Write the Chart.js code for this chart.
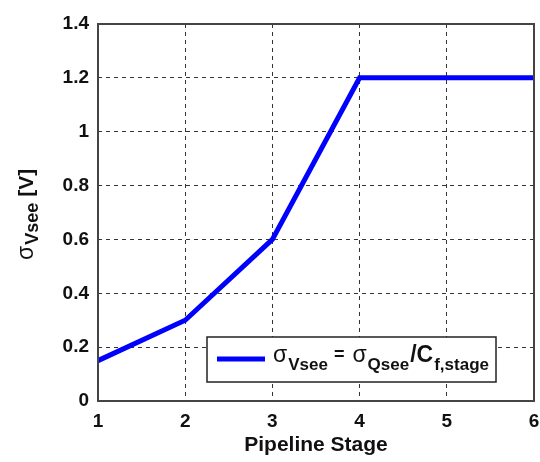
<!DOCTYPE html>
<html>
<head>
<meta charset="utf-8">
<script src="https://cdn.jsdelivr.net/npm/chart.js@4"></script>
<style>
  html, body { margin: 0; padding: 0; background: #fff; }
  #wrap { width: 540px; height: 462px; }
</style>
</head>
<body>
<div id="wrap"><canvas id="myChart" width="540" height="462"></canvas></div>
<script>
// chart values
const stages = [1, 2, 3, 4, 5, 6];
const sigmaVsee = [0.15, 0.3, 0.6, 1.2, 1.2, 1.2];
const yTicks = [0, 0.2, 0.4, 0.6, 0.8, 1, 1.2, 1.4];

const FONT = '"Liberation Sans", Arial, sans-serif';

// draws text pieces one after another, some as subscripts
function drawRich(ctx, parts, x, y) {
  parts.forEach(p => {
    ctx.font = p.font;
    ctx.fillText(p.text, x, y + (p.dy || 0));
    x += ctx.measureText(p.text).width + (p.gap || 0);
  });
  return x;
}

const framePlugin = {
  id: 'frame',
  afterDraw(chart) {
    const ctx = chart.ctx;
    const a = chart.chartArea;
    ctx.save();

    // box round the plot
    ctx.strokeStyle = '#444';
    ctx.lineWidth = 2;
    ctx.strokeRect(a.left, a.top, a.right - a.left, a.bottom - a.top);

    // y axis title with subscript
    ctx.fillStyle = '#111';
    ctx.textBaseline = 'alphabetic';
    ctx.translate(33, 260);
    ctx.rotate(-Math.PI / 2);
    drawRich(ctx, [
      { text: 'σ', font: '23px ' + FONT, gap: 1 },
      { text: 'Vsee', font: 'bold 18px ' + FONT, dy: 5, gap: 6 },
      { text: '[V]', font: 'bold 21px ' + FONT }
    ], 0, 0);
    ctx.setTransform(1, 0, 0, 1, 0, 0);

    // legend box
    const lx = 207, ly = 337, lw = 289, lh = 45;
    ctx.fillStyle = '#fff';
    ctx.fillRect(lx, ly, lw, lh);
    ctx.strokeStyle = '#222';
    ctx.lineWidth = 1.5;
    ctx.strokeRect(lx, ly, lw, lh);
    ctx.strokeStyle = '#0000ff';
    ctx.lineWidth = 5;
    ctx.beginPath();
    ctx.moveTo(217, 359);
    ctx.lineTo(265, 359);
    ctx.stroke();
    ctx.fillStyle = '#111';
    drawRich(ctx, [
      { text: 'σ', font: '23px ' + FONT, gap: 1 },
      { text: 'Vsee', font: 'bold 17px ' + FONT, dy: 8, gap: 6 },
      { text: '=', font: 'bold 18px ' + FONT, dy: -2, gap: 8 },
      { text: 'σ', font: '23px ' + FONT, gap: 1 },
      { text: 'Qsee', font: 'bold 17px ' + FONT, dy: 8, gap: 1 },
      { text: '/C', font: 'bold 23px ' + FONT, dy: 0, gap: 1 },
      { text: 'f,stage', font: 'bold 17px ' + FONT, dy: 8 }
    ], 273, 362);

    ctx.restore();
  }
};

const ctx = document.getElementById('myChart').getContext('2d');
new Chart(ctx, {
  type: 'line',
  data: {
    datasets: [{
      label: 'σVsee = σQsee/Cf,stage',
      data: stages.map((s, i) => ({ x: s, y: sigmaVsee[i] })),
      borderColor: '#0000ff',
      borderWidth: 5,
      pointRadius: 0,
      fill: false,
      tension: 0
    }]
  },
  options: {
    responsive: false,
    animation: false,
    layout: { padding: { top: 24, right: 6, left: 0, bottom: 0 } },
    plugins: {
      legend: { display: false },
      tooltip: { enabled: false }
    },
    scales: {
      x: {
        type: 'linear',
        min: 1,
        max: 6,
        afterFit: scale => {
          scale.height = 61;
          scale.paddingLeft = 0;
          scale.paddingRight = 0;
        },
        afterBuildTicks: scale => { scale.ticks = stages.map(v => ({ value: v })); },
        ticks: {
          padding: 9,
          color: '#111',
          font: { family: FONT, size: 19, weight: 'bold' }
        },
        grid: {
          color: '#333',
          lineWidth: 1,
          drawTicks: false
        },
        border: { display: false, dash: [4, 4] },
        title: {
          display: true,
          text: 'Pipeline Stage',
          color: '#111',
          padding: { top: 6 },
          font: { family: FONT, size: 21, weight: 'bold' }
        }
      },
      y: {
        type: 'linear',
        min: 0,
        max: 1.4,
        afterFit: scale => {
          scale.width = 98;
          scale.paddingTop = 0;
          scale.paddingBottom = 0;
        },
        afterBuildTicks: scale => { scale.ticks = yTicks.map(v => ({ value: v })); },
        ticks: {
          padding: 9,
          color: '#111',
          font: { family: FONT, size: 19, weight: 'bold' },
          callback: v => String(Math.round(v * 10) / 10)
        },
        grid: {
          color: '#333',
          lineWidth: 1,
          drawTicks: false
        },
        border: { display: false, dash: [4, 4] }
      }
    }
  },
  plugins: [framePlugin]
});
</script>
</body>
</html>
